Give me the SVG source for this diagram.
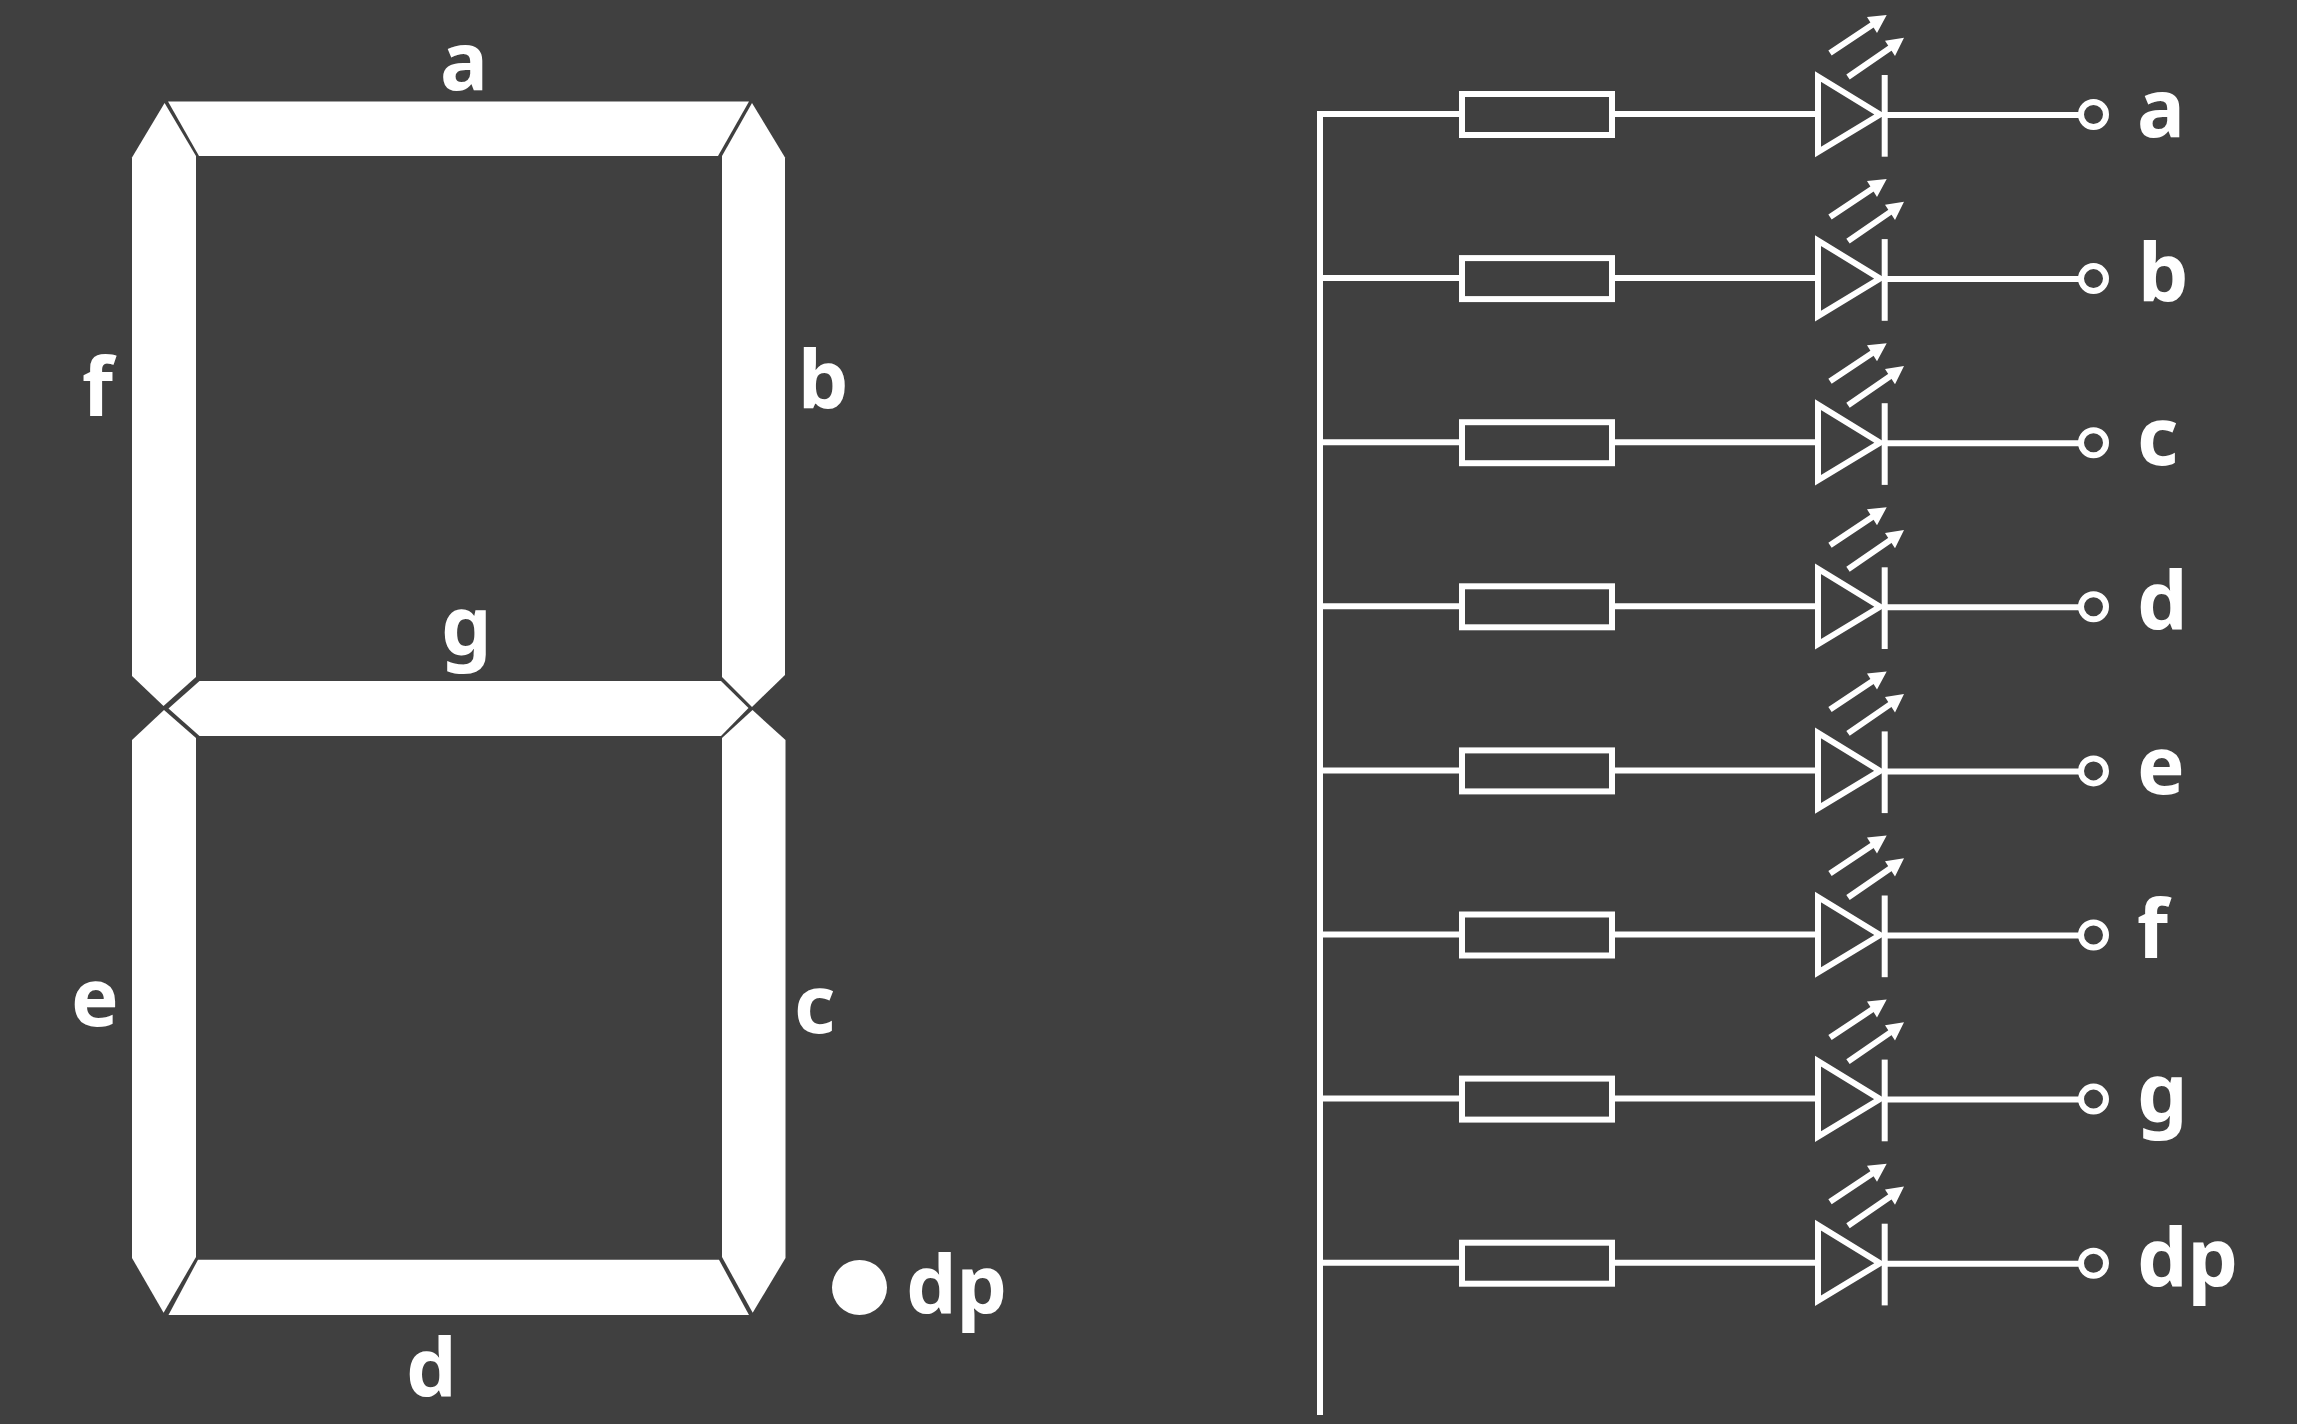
<svg xmlns="http://www.w3.org/2000/svg" width="2297" height="1424" viewBox="0 0 2297 1424">
<style>
.seg{fill:#fff}
.lbl{fill:#fff;font-family:"Noto Sans","Open Sans","DejaVu Sans",sans-serif;font-weight:700;font-size:80px}
.wire{stroke:#fff;stroke-width:6;fill:none}
.sym{stroke:#fff;stroke-width:6;fill:none}
.sol{fill:#fff}
</style>
<defs>
<g id="res"><rect class="sym" x="1462" y="94" width="150" height="41"/></g>
<g id="led">
<path class="sym" d="M1818 76.500L1818 152L1880 114.500Z" stroke-miterlimit="10"/>
<path class="sym" d="M1884.700 75V156.700"/>
<path class="sym" d="M1830 53L1875 23M1848 77L1893 46"/>
<path class="sol" d="M1886.700 15L1867 17L1877 33ZM1904 37.700L1885 40.700L1895 56Z"/>
</g>
<g id="term"><circle class="sym" cx="2093.500" cy="114.500" r="12.500"/></g>
</defs>
<rect width="2297" height="1424" fill="#404040"/>
<g id="seg-a"><polygon class="seg" points="168,101.500 749,101.500 718,156 199,156"/></g>
<g id="seg-b"><polygon class="seg" points="752,103 785,157.500 785,675 752,707 722,677 722,156"/></g>
<g id="seg-c"><polygon class="seg" points="752.500,710 785.500,740 785.500,1258 752.700,1312.700 722,1257 722,738"/></g>
<g id="seg-d"><polygon class="seg" points="198,1259.700 719,1259.700 749,1315 168.500,1315"/></g>
<g id="seg-e"><polygon class="seg" points="164,710 196,738 196,1257 163.600,1312.700 132,1258 132,740"/></g>
<g id="seg-f"><polygon class="seg" points="164.600,103 196,156 196,677 163.500,706 132,676 132,157.500"/></g>
<g id="seg-g"><polygon class="seg" points="199.500,681 721,681 748.500,708 721,736 199.500,736 168.500,708.500"/></g>
<g id="seg-dp"><circle class="seg" cx="859.500" cy="1287.500" r="27.500"/></g>
<g id="labels-display">
<text class="lbl" x="440" y="90">a</text>
<text class="lbl" x="798" y="409">b</text>
<text class="lbl" x="794" y="1033">c</text>
<text class="lbl" x="406" y="1397">d</text>
<text class="lbl" x="71" y="1026">e</text>
<text class="lbl" x="82" y="416">f</text>
<text class="lbl" x="441" y="655">g</text>
<text class="lbl" x="906" y="1314">dp</text>
</g>
<g id="connectors">
<path class="wire" d="M1320 111V1415"/>
<path class="wire" d="M1318 114H1459M1615 114H1815M1885 115H2080"/>
<path class="wire" d="M1320 278.100H1459M1615 278.100H1815M1885 279.100H2080"/>
<path class="wire" d="M1320 442.200H1459M1615 442.200H1815M1885 443.200H2080"/>
<path class="wire" d="M1320 606.300H1459M1615 606.300H1815M1885 607.300H2080"/>
<path class="wire" d="M1320 770.400H1459M1615 770.400H1815M1885 771.400H2080"/>
<path class="wire" d="M1320 934.500H1459M1615 934.500H1815M1885 935.500H2080"/>
<path class="wire" d="M1320 1098.600H1459M1615 1098.600H1815M1885 1099.600H2080"/>
<path class="wire" d="M1320 1262.700H1459M1615 1262.700H1815M1885 1263.700H2080"/>
</g>
<g id="row-a"><use href="#res"/><use href="#led"/><use href="#term"/><text class="lbl" x="2137" y="137">a</text></g>
<g id="row-b" transform="translate(0 164.100)"><use href="#res"/><use href="#led"/><use href="#term"/><text class="lbl" x="2138" y="138">b</text></g>
<g id="row-c" transform="translate(0 328.200)"><use href="#res"/><use href="#led"/><use href="#term"/><text class="lbl" x="2137" y="137">c</text></g>
<g id="row-d" transform="translate(0 492.300)"><use href="#res"/><use href="#led"/><use href="#term"/><text class="lbl" x="2137" y="138">d</text></g>
<g id="row-e" transform="translate(0 656.400)"><use href="#res"/><use href="#led"/><use href="#term"/><text class="lbl" x="2137" y="138">e</text></g>
<g id="row-f" transform="translate(0 820.500)"><use href="#res"/><use href="#led"/><use href="#term"/><text class="lbl" x="2137" y="137">f</text></g>
<g id="row-g" transform="translate(0 984.600)"><use href="#res"/><use href="#led"/><use href="#term"/><text class="lbl" x="2137" y="137">g</text></g>
<g id="row-dp" transform="translate(0 1148.700)"><use href="#res"/><use href="#led"/><use href="#term"/><text class="lbl" x="2137" y="138">dp</text></g>
</svg>
